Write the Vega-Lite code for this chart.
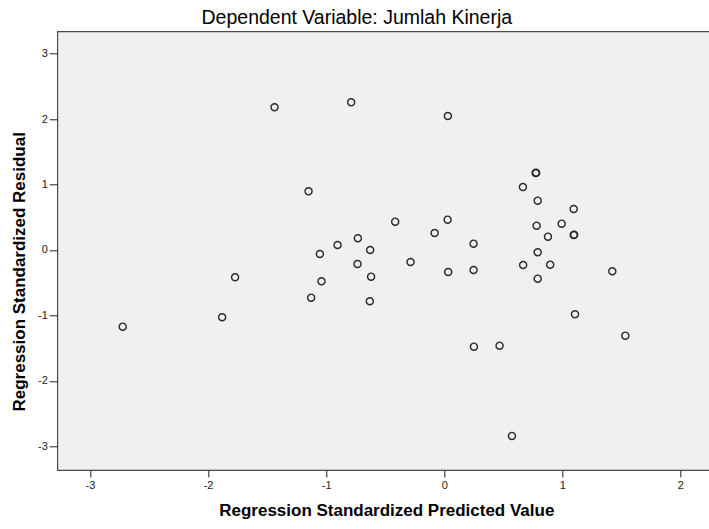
{
  "$schema": "https://vega.github.io/schema/vega-lite/v6.json",
  "width": 653,
  "height": 438.7,
  "autosize": {"type": "none"},
  "padding": {"left": 57.3, "top": 31.3, "right": 0, "bottom": 59},
  "background": "#FFFFFF",
  "title": {
    "text": "Dependent Variable: Jumlah Kinerja",
    "font": "Liberation Sans",
    "fontSize": 19.5,
    "fontWeight": "normal",
    "color": "#000000",
    "anchor": "middle",
    "offset": 3,
    "dx": -27
  },
  "config": {
    "view": {"fill": "#F0F0F0", "stroke": "#4A4A4A", "strokeWidth": 1.2}
  },
  "data": {
    "values": [
      {"pred": -1.437, "resid": 2.179},
      {"pred": -0.788, "resid": 2.255},
      {"pred": -1.149, "resid": 0.896},
      {"pred": -0.731, "resid": 0.179},
      {"pred": -0.903, "resid": 0.076},
      {"pred": -0.627, "resid": 0.0},
      {"pred": -1.053, "resid": -0.061},
      {"pred": -0.734, "resid": -0.214},
      {"pred": -0.619, "resid": -0.408},
      {"pred": -1.771, "resid": -0.417},
      {"pred": -1.039, "resid": -0.478},
      {"pred": -1.127, "resid": -0.728},
      {"pred": -0.63, "resid": -0.783},
      {"pred": -1.881, "resid": -1.027},
      {"pred": -2.723, "resid": -1.171},
      {"pred": 0.031, "resid": 2.046},
      {"pred": 0.775, "resid": 1.176},
      {"pred": 0.779, "resid": 1.18},
      {"pred": 0.667, "resid": 0.962},
      {"pred": 0.792, "resid": 0.753},
      {"pred": 1.097, "resid": 0.626},
      {"pred": -0.415, "resid": 0.432},
      {"pred": 0.029, "resid": 0.463},
      {"pred": -0.081, "resid": 0.26},
      {"pred": 0.783, "resid": 0.371},
      {"pred": 0.995, "resid": 0.402},
      {"pred": 0.879, "resid": 0.203},
      {"pred": 1.097, "resid": 0.229},
      {"pred": 1.101, "resid": 0.233},
      {"pred": 0.249, "resid": 0.096},
      {"pred": 0.792, "resid": -0.035},
      {"pred": -0.285, "resid": -0.183},
      {"pred": 0.034, "resid": -0.336},
      {"pred": 0.249, "resid": -0.305},
      {"pred": 0.669, "resid": -0.229},
      {"pred": 0.898, "resid": -0.224},
      {"pred": 0.792, "resid": -0.438},
      {"pred": 1.424, "resid": -0.325},
      {"pred": 1.108, "resid": -0.982},
      {"pred": 1.534, "resid": -1.308},
      {"pred": 0.252, "resid": -1.476},
      {"pred": 0.469, "resid": -1.461},
      {"pred": 0.574, "resid": -2.84}
    ]
  },
  "mark": {"type": "point", "shape": "circle", "filled": false, "stroke": "#2A2A2A", "strokeWidth": 1.4, "size": 50, "opacity": 1, "clip": true},
  "encoding": {
    "x": {
      "field": "pred",
      "type": "quantitative",
      "scale": {"domain": [-3.277, 2.254], "nice": false, "zero": false},
      "axis": {
        "title": "Regression Standardized Predicted Value",
        "values": [-3, -2, -1, 0, 1, 2],
        "labelExpr": "'' + datum.value",
        "grid": false,
        "domain": false,
        "tickColor": "#222222",
        "tickSize": 7,
        "tickWidth": 1,
        "labelFont": "Liberation Sans",
        "labelFontSize": 11,
        "labelColor": "#222222",
        "labelPadding": 3,
        "titleFont": "Liberation Sans",
        "titleFontSize": 17,
        "titleFontWeight": "bold",
        "titleColor": "#000000",
        "titleX": 329,
        "titleY": 46,
        "titleAlign": "center",
        "titleBaseline": "alphabetic"
      }
    },
    "y": {
      "field": "resid",
      "type": "quantitative",
      "scale": {"domain": [-3.36, 3.34], "nice": false, "zero": false},
      "axis": {
        "title": "Regression Standardized Residual",
        "values": [-3, -2, -1, 0, 1, 2, 3],
        "labelExpr": "'' + datum.value",
        "grid": false,
        "domain": false,
        "tickColor": "#222222",
        "tickSize": 8,
        "tickWidth": 1,
        "labelFont": "Liberation Sans",
        "labelFontSize": 11,
        "labelColor": "#222222",
        "labelPadding": 2,
        "titleFont": "Liberation Sans",
        "titleFontSize": 17,
        "titleFontWeight": "bold",
        "titleColor": "#000000",
        "titleAngle": -90,
        "titleX": -29,
        "titleY": 240,
        "titleAlign": "center",
        "titleBaseline": "bottom"
      }
    }
  }
}
